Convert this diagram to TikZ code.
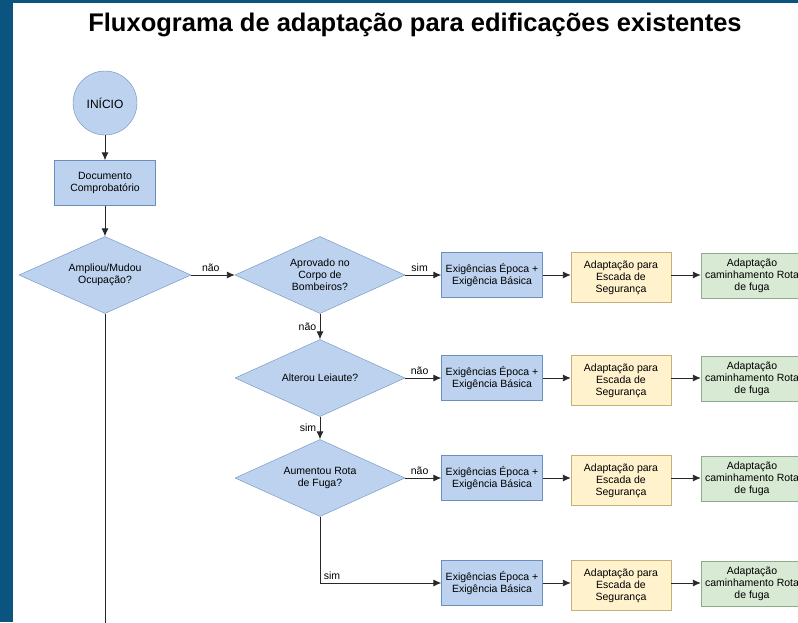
\documentclass[tikz,border=0pt]{standalone}
\usepackage{fontspec}
\setmainfont{Liberation Sans}
\usetikzlibrary{arrows.meta,positioning,shapes.geometric}

\definecolor{frameblue}{RGB}{12,84,128}
\definecolor{qblue}{RGB}{188,210,238}
\definecolor{qblueline}{RGB}{108,142,191}
\definecolor{qyellow}{RGB}{255,242,204}
\definecolor{qyellowline}{RGB}{196,176,120}
\definecolor{qgreen}{RGB}{216,234,212}
\definecolor{qgreenline}{RGB}{140,172,140}
\definecolor{linegray}{RGB}{40,40,40}

\begin{document}
\begin{tikzpicture}[x=1pt, y=-1pt,
  every node/.style={align=center, font=\fontsize{10.5}{12}\selectfont},
  box/.style={draw=qblueline, fill=qblue, minimum width=101pt, minimum height=45pt,
              inner sep=1pt},
  ybox/.style={box, draw=qyellowline, fill=qyellow, minimum width=100pt, minimum height=50pt},
  gbox/.style={box, draw=qgreenline, fill=qgreen, minimum width=102pt},
  decision/.style={diamond, draw=qblueline, fill=qblue, minimum width=170pt,
                   minimum height=77pt, inner sep=0pt, aspect=2.2},
  arr/.style={->, >={Latex[length=8pt,width=7pt]}, draw=linegray, line width=0.9pt},
  link/.style={draw=linegray, line width=0.9pt},
]
  % Frame and page
  \useasboundingbox (0,0) rectangle (798,622);
  \fill[white] (0,0) rectangle (798,622);
  \fill[frameblue] (0,0) rectangle (13,622);
  \fill[frameblue] (0,0) rectangle (798,3);

  % Title
  \node[font=\bfseries\fontsize{25.5}{28}\selectfont] (title) at (415,25)
    {Fluxograma de adaptação para edificações existentes};

  % Left column
  \node[circle, draw=qblueline, fill=qblue, minimum size=64pt, inner sep=0pt,
        font=\fontsize{12}{14}\selectfont] (inicio) at (105,103) {INÍCIO};
  \node[box] (doc) at (105,183) {Documento\\Comprobatório};
  \node[decision, minimum width=172pt] (ampliou) at (105,275) {Ampliou/Mudou\\Ocupação?};
  \coordinate (fim) at (105,630);

  % Decisions
  \node[decision] (aprovado) at (320,275) {Aprovado no\\Corpo de\\Bombeiros?};
  \node[decision] (alterou)  at (320,378) {Alterou Leiaute?};
  \node[decision] (aumentou) at (320,478) {Aumentou Rota\\de Fuga?};

  % Row 1
  \node[box]  (ex1)   at (492,275)   {Exigências Época +\\Exigência Básica};
  \node[ybox] (esc1)  at (621,277.5) {Adaptação para\\Escada de\\Segurança};
  \node[gbox] (rota1) at (752,276)   {Adaptação\\caminhamento Rota\\de fuga};
  % Row 2
  \node[box]  (ex2)   at (492,378)   {Exigências Época +\\Exigência Básica};
  \node[ybox] (esc2)  at (621,380.5) {Adaptação para\\Escada de\\Segurança};
  \node[gbox] (rota2) at (752,379)   {Adaptação\\caminhamento Rota\\de fuga};
  % Row 3
  \node[box]  (ex3)   at (492,478)   {Exigências Época +\\Exigência Básica};
  \node[ybox] (esc3)  at (621,480.5) {Adaptação para\\Escada de\\Segurança};
  \node[gbox] (rota3) at (752,479)   {Adaptação\\caminhamento Rota\\de fuga};
  % Row 4
  \node[box]  (ex4)   at (492,583)   {Exigências Época +\\Exigência Básica};
  \node[ybox] (esc4)  at (621,585.5) {Adaptação para\\Escada de\\Segurança};
  \node[gbox] (rota4) at (752,584)   {Adaptação\\caminhamento Rota\\de fuga};

  % Main flow
  \draw[arr] (inicio) -- (doc);
  \draw[arr] (doc) -- (ampliou);
  \draw[link] (ampliou) -- (fim);
  \draw[arr] (ampliou) -- node[above, pos=0.45] {não} (aprovado);
  \draw[arr] (aprovado) -- node[above, pos=0.4] {sim} (ex1);
  \draw[arr] (aprovado) -- node[left] {não} (alterou);
  \draw[arr] (alterou) -- node[above, pos=0.4] {não} (ex2);
  \draw[arr] (alterou) -- node[left] {sim} (aumentou);
  \draw[arr] (aumentou) -- node[above, pos=0.4] {não} (ex3);
  \draw[arr] (aumentou) |- node[above right, pos=0.5] {sim} (ex4);

  % Along each row
  \draw[arr] (ex1.east) -- (ex1.east -| esc1.west);
  \draw[arr] (esc1.east |- ex1.east) -- (ex1.east -| rota1.west);
  \draw[arr] (ex2.east) -- (ex2.east -| esc2.west);
  \draw[arr] (esc2.east |- ex2.east) -- (ex2.east -| rota2.west);
  \draw[arr] (ex3.east) -- (ex3.east -| esc3.west);
  \draw[arr] (esc3.east |- ex3.east) -- (ex3.east -| rota3.west);
  \draw[arr] (ex4.east) -- (ex4.east -| esc4.west);
  \draw[arr] (esc4.east |- ex4.east) -- (ex4.east -| rota4.west);
\end{tikzpicture}
\end{document}
